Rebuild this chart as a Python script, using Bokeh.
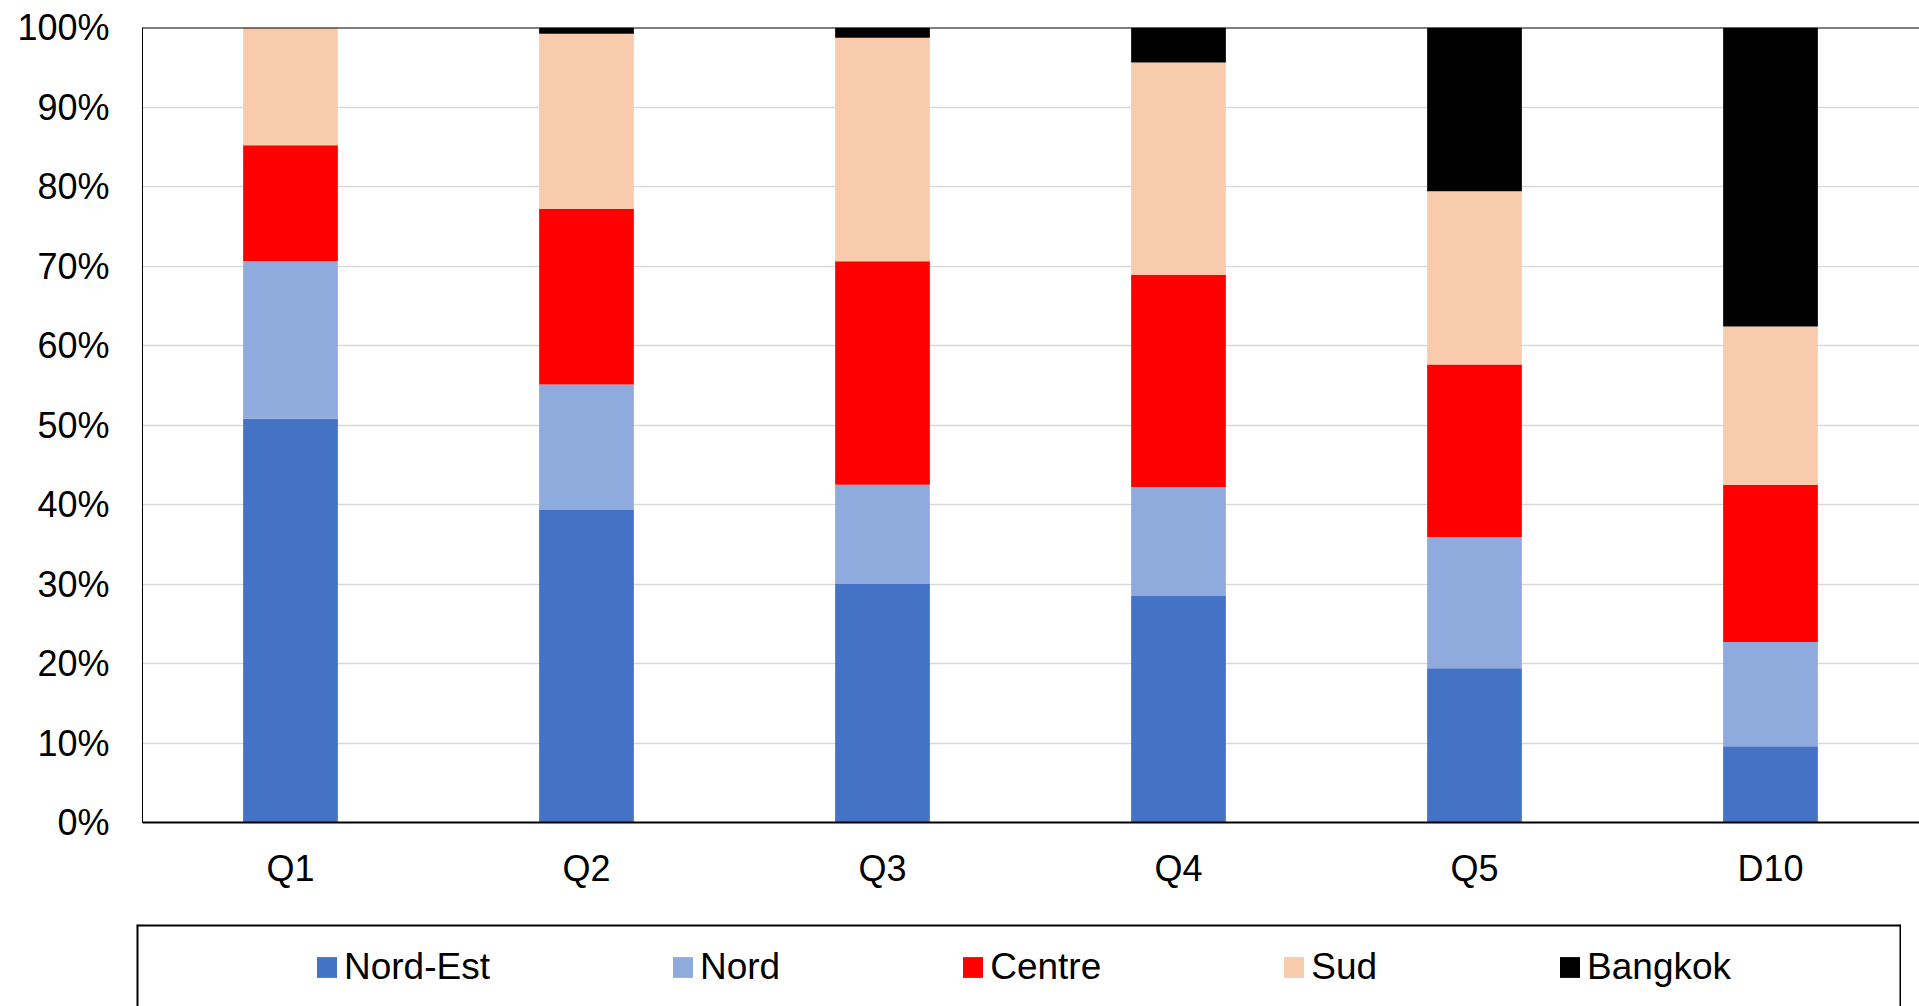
from bokeh.plotting import figure
from bokeh.models import (ColumnDataSource, Range1d, FixedTicker, Legend, LegendItem,
                          PrintfTickFormatter, Span, Spacer)
from bokeh.layouts import column, row
from bokeh.embed import file_html
from bokeh.resources import INLINE

categories = ["Q1", "Q2", "Q3", "Q4", "Q5", "D10"]
series = ["Nord-Est", "Nord", "Centre", "Sud", "Bangkok"]
nord_est = [50.8, 39.3, 30.0, 28.5, 19.4, 9.6]
nord = [19.8, 15.8, 12.5, 13.7, 16.5, 13.1]
centre = [14.6, 22.1, 28.1, 26.7, 21.7, 19.8]
sud = [14.8, 22.0, 28.1, 26.7, 21.8, 19.9]
bangkok = [0.0, 0.8, 1.3, 4.4, 20.6, 37.6]
colors = ["#4472C4", "#8FAADC", "#FF0000", "#F8CBAD", "#000000"]
y_ticks = list(range(0, 101, 10))

FONT = "Liberation Sans"
xs = [i + 0.5 for i in range(len(categories))]
source = ColumnDataSource(dict(x=xs, **{"Nord-Est": nord_est, "Nord": nord, "Centre": centre,
                                        "Sud": sud, "Bangkok": bangkok}))

p = figure(width=1919, height=924, output_backend="svg", toolbar_location=None,
           x_range=Range1d(0, 1777 / 296), y_range=Range1d(0, 100),
           min_border_left=142, min_border_right=0, min_border_top=27, min_border_bottom=102)
p.outline_line_color = None
p.background_fill_color = "white"
p.border_fill_color = "white"

p.vbar_stack(series, x="x", width=0.32, color=colors, line_color=None, source=source)

# axes
p.xaxis.ticker = FixedTicker(ticks=xs)
p.xaxis.major_label_overrides = {x: c for x, c in zip(xs, categories)}
p.xaxis.major_tick_line_color = None
p.xaxis.major_tick_out = 0
p.xaxis.minor_tick_line_color = None
p.xaxis.axis_line_color = "black"
p.xaxis.axis_line_width = 2
p.xaxis.major_label_text_font = FONT
p.xaxis.major_label_text_font_size = "36px"
p.xaxis.major_label_text_color = "black"
p.xaxis.major_label_standoff = 25

p.yaxis.ticker = FixedTicker(ticks=y_ticks)
p.yaxis.formatter = PrintfTickFormatter(format="%d%%")
p.yaxis.major_tick_line_color = None
p.yaxis.major_tick_out = 0
p.yaxis.minor_tick_line_color = None
p.yaxis.axis_line_color = "black"
p.yaxis.axis_line_width = 1
p.yaxis.major_label_text_font = FONT
p.yaxis.major_label_text_font_size = "36px"
p.yaxis.major_label_text_color = "black"
p.yaxis.major_label_standoff = 33

p.xgrid.grid_line_color = None
p.ygrid.grid_line_color = "#D9D9D9"
p.ygrid.grid_line_width = 1.5

p.add_layout(Span(location=100, dimension="width", line_color="black", line_width=2))

# legend panel (box open at the bottom edge of the page)
lg = figure(width=1765, height=82, output_backend="svg", toolbar_location=None,
            x_range=Range1d(0, 1), y_range=Range1d(0, 1),
            min_border_left=0, min_border_right=0, min_border_top=0, min_border_bottom=0)
lg.outline_line_color = None
lg.axis.visible = False
lg.grid.visible = False
lg.background_fill_color = "white"
lg.border_fill_color = "white"
items = []
for s, c in zip(series, colors):
    # zero-size proxy glyph, only used to draw the legend swatch
    r = lg.vbar(x=[0], top=[0], width=0, fill_color=c, line_color=None)
    items.append(LegendItem(label=s, renderers=[r]))
legend = Legend(items=items, orientation="horizontal", location=(178, 17), padding=0, spacing=180,
                border_line_color=None, background_fill_alpha=0,
                label_text_font=FONT, label_text_font_size="37px", label_text_color="black",
                glyph_width=25, glyph_height=26, label_height=44, label_standoff=5, margin=0)
lg.add_layout(legend, "center")
lg.add_layout(Span(location=0, dimension="height", line_color="black", line_width=4))
lg.add_layout(Span(location=1, dimension="height", line_color="black", line_width=4))
lg.add_layout(Span(location=1, dimension="width", line_color="black", line_width=4))

layout = column(p, row(Spacer(width=136, height=82), lg))

open("out.html", "w").write(file_html(layout, INLINE))
